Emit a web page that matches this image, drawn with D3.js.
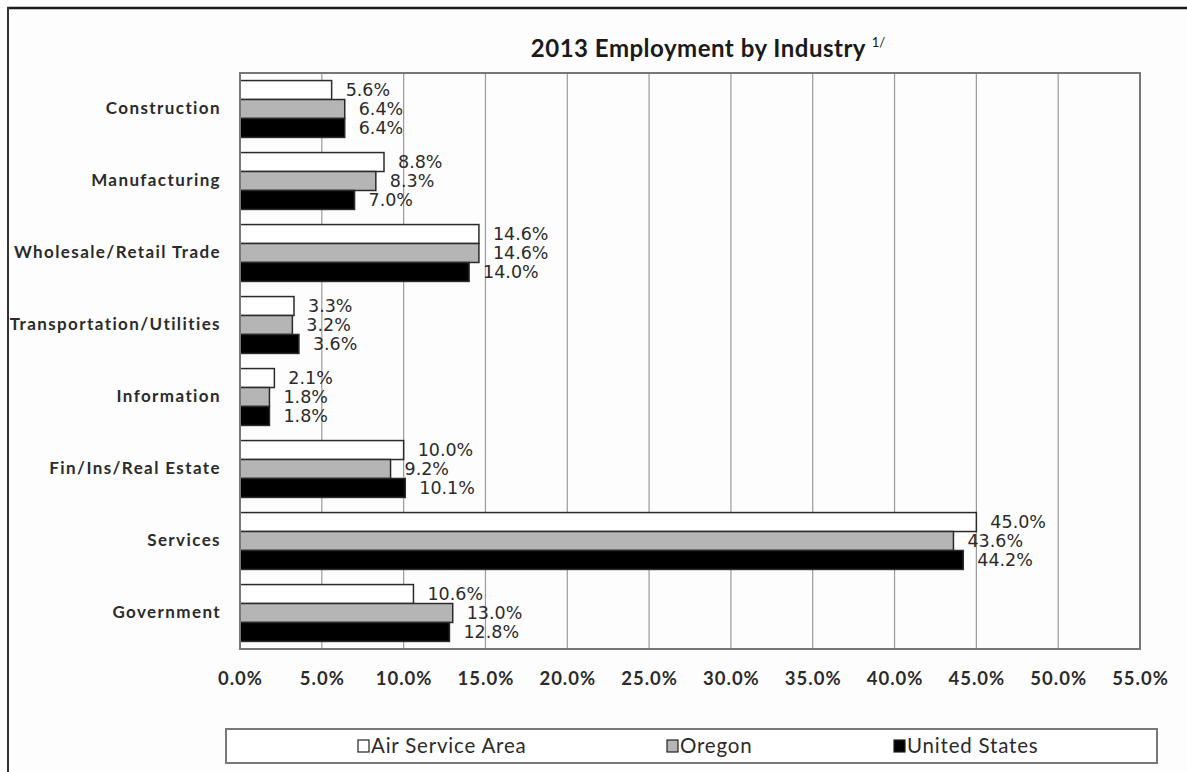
<!DOCTYPE html>
<html>
<head>
<meta charset="utf-8">
<script src="https://cdn.jsdelivr.net/npm/d3@7"></script>
<style>
  html, body { margin: 0; padding: 0; background: #fdfdfd; }
  svg { display: block; }
</style>
</head>
<body>
<script>
// Employment share by industry, 2013
const categories = ["Construction", "Manufacturing", "Wholesale/Retail Trade", "Transportation/Utilities",
  "Information", "Fin/Ins/Real Estate", "Services", "Government"];
const seriesNames = ["Air Service Area", "Oregon", "United States"];
const airServiceArea = [5.6, 8.8, 14.6, 3.3, 2.1, 10.0, 45.0, 10.6];
const oregon = [6.4, 8.3, 14.6, 3.2, 1.8, 9.2, 43.6, 13.0];
const unitedStates = [6.4, 7.0, 14.0, 3.6, 1.8, 10.1, 44.2, 12.8];
const tickValues = [0, 5, 10, 15, 20, 25, 30, 35, 40, 45, 50, 55];
const seriesFills = ["#ffffff", "#b5b5b5", "#000000"];

const W = 1187, H = 772;
const plot = { left: 240, top: 73, right: 1140, bottom: 649 };

const svg = d3.select("body").append("svg").attr("width", W).attr("height", H);

// outer frame (top and left edges)
svg.append("line").attr("x1", 7).attr("x2", W).attr("y1", 8).attr("y2", 8)
  .attr("stroke", "#1a1a1a").attr("stroke-width", 2.5);
svg.append("line").attr("x1", 8).attr("x2", 8).attr("y1", 7).attr("y2", H)
  .attr("stroke", "#333").attr("stroke-width", 2);

const x = d3.scaleLinear().domain([0, 55]).range([plot.left, plot.right]);
const y = d3.scaleBand().domain(categories).range([plot.top, plot.bottom]).paddingInner(0.21).paddingOuter(0.105);
const ySub = d3.scaleBand().domain(seriesNames).range([0, y.bandwidth()]);

// gridlines
svg.append("g")
  .selectAll("line").data(tickValues.slice(1, -1)).join("line")
  .attr("x1", d => x(d)).attr("x2", d => x(d))
  .attr("y1", plot.top).attr("y2", plot.bottom)
  .attr("stroke", "#9a9a9a").attr("stroke-width", 1.2);

// bars
const rows = categories.map((c, i) => ({
  cat: c,
  vals: [airServiceArea[i], oregon[i], unitedStates[i]]
}));

const groups = svg.append("g").selectAll("g").data(rows).join("g")
  .attr("transform", d => `translate(0,${y(d.cat)})`);

groups.selectAll("rect").data(d => d.vals.map((v, j) => ({ v, s: seriesNames[j], j }))).join("rect")
  .attr("x", x(0))
  .attr("y", d => ySub(d.s))
  .attr("width", d => x(d.v) - x(0))
  .attr("height", ySub.bandwidth())
  .attr("fill", d => seriesFills[d.j])
  .attr("stroke", "#2a2a2a").attr("stroke-width", 1.5);

groups.selectAll("text").data(d => d.vals.map((v, j) => ({ v, s: seriesNames[j], j }))).join("text")
  .attr("x", d => x(d.v) + 14)
  .attr("y", d => ySub(d.s) + ySub.bandwidth() / 2)
  .attr("dy", "0.36em")
  .attr("font-family", "DejaVu Sans")
  .attr("font-size", 17.5)
  .attr("fill", "#2b2b2b")
  .text(d => d.v.toFixed(1) + "%");

// plot border
svg.append("rect")
  .attr("x", plot.left).attr("y", plot.top)
  .attr("width", plot.right - plot.left).attr("height", plot.bottom - plot.top)
  .attr("fill", "none").attr("stroke", "#777").attr("stroke-width", 2);

// category axis
const yAxis = svg.append("g").attr("transform", `translate(${plot.left},0)`)
  .call(d3.axisLeft(y).tickSize(0).tickPadding(19));
yAxis.select(".domain").remove();
yAxis.selectAll("text")
  .attr("font-family", "Lato").attr("font-weight", "bold")
  .attr("font-size", 17).attr("letter-spacing", 1.4).attr("fill", "#2b2b2b");

// value axis
const xAxis = svg.append("g").attr("transform", `translate(0,${plot.bottom})`)
  .call(d3.axisBottom(x).tickValues(tickValues).tickSize(0).tickPadding(23)
    .tickFormat(d => d.toFixed(1) + "%"));
xAxis.select(".domain").remove();
xAxis.selectAll("text")
  .attr("font-family", "Lato").attr("font-weight", "bold")
  .attr("font-size", 18.5).attr("letter-spacing", 1).attr("fill", "#2b2b2b");

// title
const title = svg.append("text")
  .attr("x", 708).attr("y", 57)
  .attr("text-anchor", "middle")
  .attr("font-family", "Lato").attr("font-weight", "bold")
  .attr("font-size", 24).attr("letter-spacing", 0.5).attr("fill", "#1a1a1a");
title.append("tspan").text("2013 Employment by Industry ");
title.append("tspan").attr("dy", -10).attr("font-size", 13).attr("font-weight", "normal")
  .attr("letter-spacing", 0).text("1/");

// legend
svg.append("rect").attr("x", 226).attr("y", 729).attr("width", 931).attr("height", 34)
  .attr("fill", "#fff").attr("stroke", "#777").attr("stroke-width", 2);
const legendX = [358, 667, 894];
const leg = svg.append("g").selectAll("g").data(seriesNames).join("g")
  .attr("transform", (d, i) => `translate(${legendX[i]},746)`);
leg.append("rect").attr("x", 0).attr("y", -6).attr("width", 11).attr("height", 12)
  .attr("fill", (d, i) => seriesFills[i]).attr("stroke", "#222").attr("stroke-width", 1.2);
leg.append("text").attr("x", 13).attr("dy", "0.36em")
  .attr("font-family", "Lato").attr("font-size", 20.5).attr("letter-spacing", 0.8)
  .attr("fill", "#2b2b2b")
  .text(d => d);
</script>
</body>
</html>
